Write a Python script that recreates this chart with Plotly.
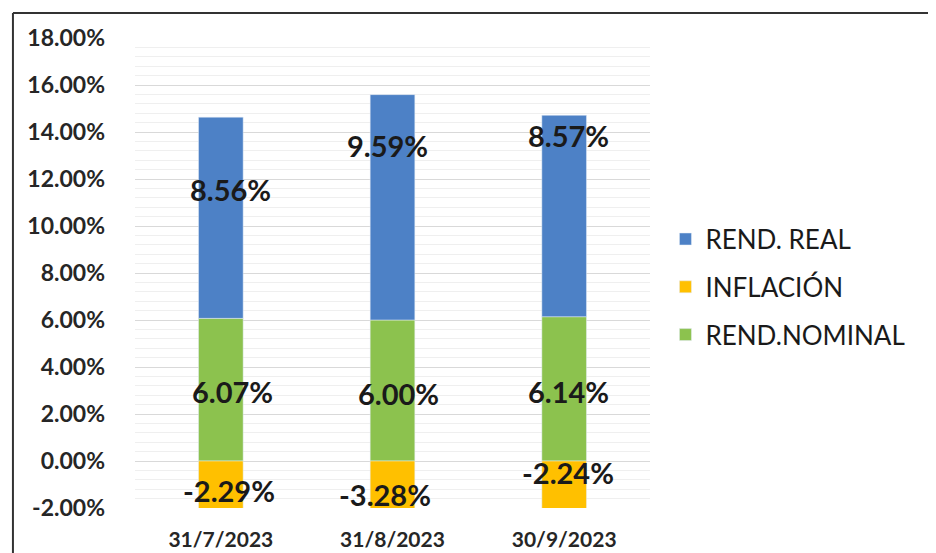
import plotly.graph_objects as go

categories = ["31/7/2023", "31/8/2023", "30/9/2023"]
rend_nominal = [6.07, 6.00, 6.14]
inflacion = [-2.29, -3.28, -2.24]
rend_real = [8.56, 9.59, 8.57]
y_ticks = [-2, 0, 2, 4, 6, 8, 10, 12, 14, 16, 18]
y_tick_text = [f"{v:.2f}%" for v in y_ticks]

# label placement (Excel labels were hand-positioned)
real_label_y = [11.57, 13.43, 13.86]
real_label_dx = [10, -5, 4]
nominal_label_y = [2.97, 2.88, 2.97]
nominal_label_dx = [12, 6, 4]
infl_label_y = [-1.27, -1.44, -0.51]
infl_label_dx = [8, -8, 4]

BLUE = "#4D81C6"
YELLOW = "#FFC000"
GREEN = "#8CC24E"
FONT = "Lato"

fig = go.Figure()
fig.add_trace(go.Bar(x=categories, y=rend_nominal, name="REND.NOMINAL",
                     marker_color=GREEN, width=0.26, legendrank=3, legendgroup="g3"))
fig.add_trace(go.Bar(x=categories, y=inflacion, name="INFLACIÓN",
                     marker_color=YELLOW, width=0.26, legendrank=2, legendgroup="g2"))
fig.add_trace(go.Bar(x=categories, y=rend_real, name="REND. REAL",
                     marker_color=BLUE, width=0.26, legendrank=1, legendgroup="g1"))

ann = []
lab_font = dict(family=FONT, size=29, color="#1a1a1a")
for i, c in enumerate(categories):
    for vals, ys, dx in ((rend_real, real_label_y, real_label_dx),
                         (rend_nominal, nominal_label_y, nominal_label_dx),
                         (inflacion, infl_label_y, infl_label_dx)):
        ann.append(dict(x=c, y=ys[i], text=f"<b>{vals[i]:.2f}%</b>", showarrow=False,
                        xshift=dx[i], font=lab_font))

fig.update_layout(
    width=936, height=553,
    margin=dict(l=127, r=294, t=30, b=53),
    paper_bgcolor="white", plot_bgcolor="white",
    barmode="relative",
    showlegend=True,
    legend=dict(x=1.03, y=0.47, xanchor="left", yanchor="middle",
                traceorder="grouped", tracegroupgap=11,
                font=dict(family=FONT, size=26, color="#1a1a1a"),
                itemwidth=30),
    annotations=ann,
    shapes=[
        dict(type="line", xref="paper", yref="paper", x0=-0.237, x1=1.541,
             y0=1.053, y1=1.053, line=dict(color="#333333", width=2)),
        dict(type="line", xref="paper", yref="paper", x0=-0.237, x1=-0.237,
             y0=1.053, y1=-0.2, line=dict(color="#333333", width=2)),
    ],
)
fig.update_yaxes(range=[-2, 18], tickvals=y_ticks, ticktext=y_tick_text,
                 automargin=False,
                 showgrid=True, gridcolor="#D9D9D9", gridwidth=1,
                 minor=dict(dtick=0.4, showgrid=True, gridcolor="#EFEFEF", gridwidth=1),
                 zeroline=False, showline=False, ticks="",
                 ticklabelstandoff=29,
                 tickfont=dict(family=FONT, size=23, color="#262626", weight="bold"))
fig.update_xaxes(showgrid=False, showline=False, ticks="", ticklabelstandoff=17,
                 automargin=False,
                 tickfont=dict(family=FONT, size=21, color="#262626", weight="bold"))

fig.write_html("out.html")
